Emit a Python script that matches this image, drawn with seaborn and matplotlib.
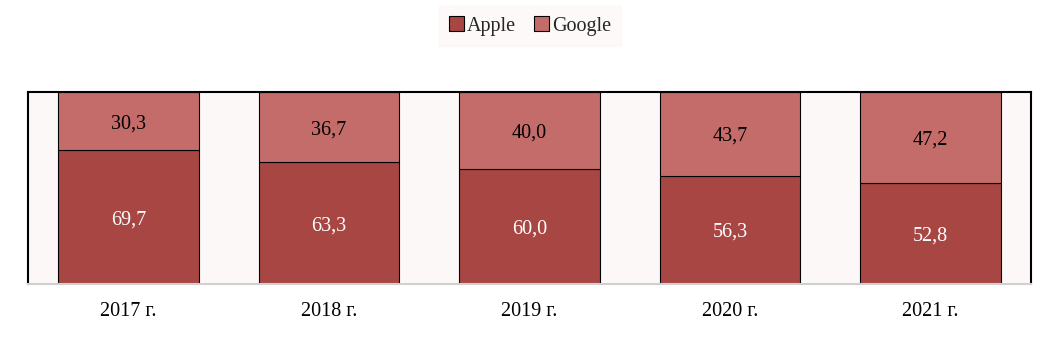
import matplotlib
matplotlib.use("Agg")
import matplotlib.pyplot as plt
import seaborn as sns
import pandas as pd
import numpy as np

years = ["2017 г.", "2018 г.", "2019 г.", "2020 г.", "2021 г."]
apple = [69.7, 63.3, 60.0, 56.3, 52.8]
google = [30.3, 36.7, 40.0, 43.7, 47.2]

c_apple = "#a84644"
c_google = "#c46c6a"
bg = "#fcf8f7"
fs = 14.5

sns.set_theme(style="white")
plt.rcParams['font.family'] = ['Liberation Serif', 'DejaVu Serif']

fig = plt.figure(figsize=(10.57, 3.51), dpi=100)
ax = fig.add_axes([28/1057, 1-284/351, (1031-28)/1057, (284-92)/351])
ax.set_facecolor(bg)

df = pd.DataFrame({"year": years, "Apple": apple, "Google": google})
sns.barplot(data=df, x="year", y="Apple", color=c_apple, width=0.7,
            edgecolor="black", linewidth=0.8, saturation=1, ax=ax, label="Apple")
sns.barplot(data=df, x="year", y="Google", color=c_google, width=0.7,
            bottom=df["Apple"], edgecolor="black", linewidth=0.8, saturation=1,
            ax=ax, label="Google")

fmt = lambda v: f"{v:.1f}".replace(".", ",")
for i, (a, g) in enumerate(zip(apple, google)):
    ax.text(i, a/2, fmt(a), ha="center", va="center_baseline", color="white", fontsize=fs)
    ax.text(i, a + g/2, fmt(g), ha="center", va="center_baseline", color="black", fontsize=fs)

ax.set_ylim(0, 100)
ax.set_xlim(-0.5, 4.5)
ax.set_yticks([])
ax.set_xlabel("")
ax.set_ylabel("")
ax.tick_params(axis="x", length=0, labelsize=fs, pad=13, colors="black")
for s in ["top", "left", "right"]:
    ax.spines[s].set_color("black")
    ax.spines[s].set_linewidth(1.5)
ax.spines["bottom"].set_color("#d0d0d0")
ax.spines["bottom"].set_linewidth(1.5)

leg = ax.legend(loc="center", bbox_to_anchor=(530/1057, 1-26/351),
                bbox_transform=fig.transFigure, ncol=2, frameon=True,
                fontsize=fs, handlelength=0.75, handleheight=0.75,
                handletextpad=0.15, columnspacing=0.9, borderpad=0.5,
                borderaxespad=0)
leg.get_frame().set_facecolor(bg)
leg.get_frame().set_edgecolor(bg)
leg.get_frame().set_boxstyle("square", pad=0)
for h in leg.legend_handles:
    h.set_edgecolor("black")
    h.set_linewidth(0.8)

fig.savefig("out.png", dpi=100, facecolor="white")
